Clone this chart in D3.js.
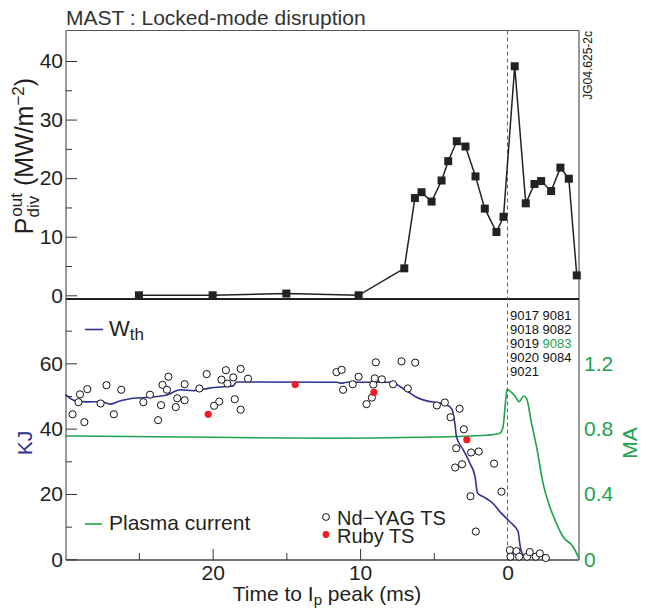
<!DOCTYPE html>
<html>
<head>
<meta charset="utf-8">
<script src="https://cdn.jsdelivr.net/npm/d3@7"></script>
<style>
  html, body { margin: 0; padding: 0; background: #fff; }
  svg { display: block; font-family: "Liberation Sans", Arial, Helvetica, sans-serif; }
</style>
</head>
<body>
<svg id="chart" width="647" height="609"></svg>
<script>
// ---------- DATA ----------
// Top panel: divertor power (MW/m^2) vs time to Ip peak (ms)
const pdivTime   = [25, 20, 15, 10.1, 7.0, 6.28, 5.83, 5.15, 4.47, 4.02, 3.44, 2.85, 2.17, 1.54, 0.75, 0.27, -0.49, -1.24, -1.83, -2.28, -2.96, -3.59, -4.16, -4.7];
const pdivValues = [0, 0, 0.3, 0, 4.6, 16.6, 17.6, 16.0, 19.6, 22.9, 26.3, 25.4, 20.3, 14.8, 10.8, 13.4, 39.1, 15.7, 19.0, 19.5, 17.8, 21.8, 19.9, 3.4];

// Bottom panel: stored energy Wth (kJ)
const wthTime   = [30, 29.3, 28.5, 27.6, 26.95, 26.4, 25.4, 24.25, 23.1, 22.2, 21.3, 20.2, 19.05, 18.6, 18.4, 11.6, 11.25, 10.9, 7.86, 7.3, 6.74, 6.17, 5.49, 4.81, 4.25, 3.8, 3.57, 3.46, 3.0, 2.55, 2.2, 2.03, 1.65, 0.98, 0.52, -0.16, -0.72, -0.83, -0.95, -1.1];
const wthValues = [50.5, 48.5, 48.2, 48.3, 47.5, 48.3, 49.3, 49.6, 50.3, 51.9, 51.6, 52.4, 52.9, 53.1, 54.3, 54.2, 53.9, 54.2, 54.2, 52.9, 51.3, 49.6, 48.5, 48.0, 47.5, 46.2, 41.6, 37.5, 33.5, 29.4, 25.3, 20.2, 19.2, 17.1, 14.6, 11.5, 8.5, 4.9, 2.3, 1.3];

// Plasma current (MA)
const ipTime   = [30, 20, 12.05, 5.95, 1.42, 0.52, 0.3, 0.12, 0.03, -0.16, -0.5, -0.79, -1.1, -1.29, -1.63, -1.97, -2.41, -2.87, -3.32, -3.77, -4.45, -4.85];
const ipValues = [0.755, 0.747, 0.741, 0.747, 0.76, 0.772, 0.812, 0.976, 1.041, 1.031, 1.0, 0.965, 1.0, 0.986, 0.833, 0.69, 0.466, 0.322, 0.22, 0.138, 0.077, 0.006];

// Nd-YAG Thomson scattering (kJ)
const ndyagTime   = [29.5, 29.1, 29.0, 28.7, 28.5, 27.6, 27.2, 26.7, 26.2, 24.7, 24.25, 23.7, 23.5, 23.4, 23.1, 23.0, 22.5, 22.4, 21.9, 21.9, 20.9, 20.4, 19.9, 19.55, 19.4, 19.1, 19.0, 18.6, 18.5, 18.1, 18.1, 17.6,
                     11.6, 11.25, 11.15, 10.5, 10.1, 9.56, 9.2, 9.1, 9.0, 8.93, 8.52, 7.76, 7.19, 6.76, 6.26, 4.79, 4.25, 3.86, 3.25, 2.96, 3.48, 2.47, 1.95, 3.55, 3.08, 0.91, 2.51, 0.41, 2.15,
                     -0.16, -0.61, -0.2, -0.79, -1.33, -1.51, -1.92, -2.19, -2.6];
const ndyagValues = [44.4, 48.1, 50.5, 42.0, 52.1, 47.7, 53.3, 44.4, 51.9, 48.1, 50.4, 42.6, 47.2, 53.4, 51.9, 55.9, 46.6, 49.3, 48.7, 53.6, 52.3, 56.7, 47.0, 48.3, 55.0, 57.9, 53.8, 55.7, 49.0, 58.3, 45.8, 55.3,
                     57.3, 58.0, 51.9, 53.6, 55.9, 47.5, 49.5, 53.5, 55.4, 60.3, 55.1, 53.6, 60.6, 52.3, 60.2, 47.1, 48.0, 43.5, 46.1, 39.8, 34.0, 32.7, 33.0, 28.1, 29.1, 29.3, 19.3, 20.7, 8.5,
                     2.8, 2.5, 0.8, 0.8, 0.8, 2.2, 0.8, 1.8, 0.4];

// Ruby Thomson scattering (kJ)
const rubyTime   = [20.3, 14.4, 9.06, 2.76];
const rubyValues = [44.4, 53.5, 51.1, 36.6];

// Tick values / labels
const topYTicks = [0, 10, 20, 30, 40];
const topYMinor = [5, 15, 25, 35];
const kjTicks = [0, 20, 40, 60];
const kjMinor = [10, 30, 50, 70];
const maTicks = [0, 0.4, 0.8, 1.2];
const xTicks = [20, 10, 0];
const xMinor = [25, 15, 5];
const shotRows = [["9017", "9081"], ["9018", "9082"], ["9019", "9083"], ["9020", "9084"], ["9021", ""]];
const highlightShot = "9083";

// ---------- LAYOUT ----------
const C = { blue: "#2e3192", green: "#1ea24f", red: "#ed1c24", ink: "#231f20", frame: "#555" };
const L = 66, R = 579, topT = 30.5, topB = 299, botB = 560;

const svg = d3.select("#chart");

const x = d3.scaleLinear().domain([30, -4.85]).range([65.2, 579]);
const yTop = d3.scaleLinear().domain([0, 40]).range([295.3, 61]);
const yKJ = d3.scaleLinear().domain([0, 80]).range([559.3, 298]);
const yMA = d3.scaleLinear().domain([0, 1.6]).range([559.3, 298]);

// ---------- FRAMES ----------
const fr = svg.append("g");
fr.append("line").attr("x1", L).attr("x2", R).attr("y1", topT).attr("y2", topT).attr("stroke", C.frame).attr("stroke-width", 1);
fr.append("line").attr("x1", L).attr("x2", L).attr("y1", topT).attr("y2", botB).attr("stroke", C.frame).attr("stroke-width", 1.2);
fr.append("line").attr("x1", R).attr("x2", R).attr("y1", topT).attr("y2", botB).attr("stroke", C.frame).attr("stroke-width", 1.2);
fr.append("line").attr("x1", L).attr("x2", R).attr("y1", topB).attr("y2", topB).attr("stroke", "#222").attr("stroke-width", 2);
fr.append("line").attr("x1", L).attr("x2", R).attr("y1", botB).attr("y2", botB).attr("stroke", "#444").attr("stroke-width", 1.5);

// dashed line at Ip peak
svg.append("line").attr("x1", x(0)).attr("x2", x(0)).attr("y1", topT).attr("y2", botB)
  .attr("stroke", "#666").attr("stroke-width", 1).attr("stroke-dasharray", "4,3");

// ---------- AXES ----------
function styleAxis(g, color, fs) {
  g.select(".domain").remove();
  g.selectAll(".tick line").attr("stroke", "#333").attr("stroke-width", 1);
  g.selectAll(".tick text").attr("fill", color).style("font-size", fs + "px").style("font-family", "'Liberation Sans', Arial, sans-serif");
}
// top y
svg.append("g").attr("transform", `translate(${L},0)`)
  .call(d3.axisLeft(yTop).tickValues(topYTicks).tickSize(-11).tickPadding(3))
  .call(g => styleAxis(g, C.ink, 21));
svg.append("g").attr("transform", `translate(${L},0)`)
  .call(d3.axisLeft(yTop).tickValues(topYMinor).tickSize(-6).tickFormat(""))
  .call(g => styleAxis(g, C.ink, 21));
// bottom KJ
svg.append("g").attr("transform", `translate(${L},0)`)
  .call(d3.axisLeft(yKJ).tickValues(kjTicks).tickSize(-11).tickPadding(3))
  .call(g => styleAxis(g, C.ink, 21));
svg.append("g").attr("transform", `translate(${L},0)`)
  .call(d3.axisLeft(yKJ).tickValues(kjMinor).tickSize(-6).tickFormat(""))
  .call(g => styleAxis(g, C.ink, 21));
// right MA
svg.append("g").attr("transform", `translate(${R},0)`)
  .call(d3.axisRight(yMA).tickValues(maTicks).tickSize(0).tickPadding(5).tickFormat(d => d === 0 ? "0" : d3.format(".1f")(d)))
  .call(g => styleAxis(g, C.green, 21));
// bottom x
svg.append("g").attr("transform", `translate(0,${botB})`)
  .call(d3.axisBottom(x).tickValues(xTicks).tickSize(-11).tickPadding(5).tickFormat(d3.format("d")))
  .call(g => styleAxis(g, C.ink, 21));
svg.append("g").attr("transform", `translate(0,${botB})`)
  .call(d3.axisBottom(x).tickValues(xMinor).tickSize(-7).tickFormat(""))
  .call(g => styleAxis(g, C.ink, 21));

// ---------- TOP PANEL ----------
const topData = pdivTime.map((t, i) => ({ t, v: pdivValues[i] }));
svg.append("path").datum(topData)
  .attr("d", d3.line().x(d => x(d.t)).y(d => yTop(d.v)))
  .attr("fill", "none").attr("stroke", "#222").attr("stroke-width", 1.5);
svg.append("g").selectAll("rect").data(topData).join("rect")
  .attr("x", d => x(d.t) - 4).attr("y", d => yTop(d.v) - 4)
  .attr("width", 8).attr("height", 8).attr("fill", "#222");

// ---------- BOTTOM PANEL ----------
const ipData = ipTime.map((t, i) => ({ t, v: ipValues[i] }));
svg.append("path").datum(ipData)
  .attr("d", d3.line().x(d => x(d.t)).y(d => yMA(d.v)).curve(d3.curveMonotoneX))
  .attr("fill", "none").attr("stroke", C.green).attr("stroke-width", 1.6);

const wthData = wthTime.map((t, i) => ({ t, v: wthValues[i] }));
svg.append("path").datum(wthData)
  .attr("d", d3.line().x(d => x(d.t)).y(d => yKJ(d.v)).curve(d3.curveMonotoneX))
  .attr("fill", "none").attr("stroke", C.blue).attr("stroke-width", 1.6);

const ndData = ndyagTime.map((t, i) => ({ t, v: ndyagValues[i] }));
svg.append("g").selectAll("circle").data(ndData).join("circle")
  .attr("cx", d => x(d.t)).attr("cy", d => yKJ(d.v)).attr("r", 3.6)
  .attr("fill", "#fff").attr("stroke", "#111").attr("stroke-width", 1);

const rubyData = rubyTime.map((t, i) => ({ t, v: rubyValues[i] }));
svg.append("g").selectAll("circle").data(rubyData).join("circle")
  .attr("cx", d => x(d.t)).attr("cy", d => yKJ(d.v)).attr("r", 3.6)
  .attr("fill", C.red);

// ---------- TEXT ----------
svg.append("text").attr("x", 66).attr("y", 25).attr("fill", "#333")
  .style("font-size", "21px").text("MAST : Locked-mode disruption");

svg.append("text").attr("transform", "translate(592,31) rotate(-90)")
  .attr("text-anchor", "end").attr("fill", "#111").style("font-size", "12px").text("JG04.625-2c");

// Top y label
const yl = svg.append("text").attr("transform", "translate(33,156) rotate(-90)")
  .attr("text-anchor", "middle").attr("fill", C.ink).style("font-size", "25px");
yl.append("tspan").text("P");
yl.append("tspan").attr("dy", 6).style("font-size", "17px").text("div");
yl.append("tspan").attr("dx", -21).attr("dy", -17).style("font-size", "17px").text("out");
yl.append("tspan").attr("dy", 11).text(" (MW/m");
yl.append("tspan").attr("dy", -9).style("font-size", "17px").text("−2");
yl.append("tspan").attr("dy", 9).text(")");

// KJ label
svg.append("text").attr("transform", "translate(32,443) rotate(-90)")
  .attr("text-anchor", "middle").attr("fill", C.blue).style("font-size", "21px").text("KJ");
// MA label
svg.append("text").attr("transform", "translate(637,443) rotate(-90)")
  .attr("text-anchor", "middle").attr("fill", C.green).style("font-size", "21px").text("MA");

// X label
const xl = svg.append("text").attr("x", 327).attr("y", 601).attr("text-anchor", "middle")
  .attr("fill", C.ink).style("font-size", "21px");
xl.append("tspan").text("Time to I");
xl.append("tspan").attr("dy", 4).style("font-size", "15px").text("p");
xl.append("tspan").attr("dy", -4).text(" peak (ms)");

// Legend Wth
svg.append("line").attr("x1", 85).attr("x2", 103).attr("y1", 329.5).attr("y2", 329.5).attr("stroke", C.blue).attr("stroke-width", 1.6);
const wl = svg.append("text").attr("x", 109).attr("y", 336).attr("fill", C.ink).style("font-size", "22px");
wl.append("tspan").text("W");
wl.append("tspan").attr("dy", 4).style("font-size", "17px").text("th");

// Legend plasma current
svg.append("line").attr("x1", 85).attr("x2", 102).attr("y1", 524).attr("y2", 524).attr("stroke", C.green).attr("stroke-width", 1.6);
svg.append("text").attr("x", 109).attr("y", 530).attr("fill", C.ink).style("font-size", "21px").text("Plasma current");

// Legend TS
svg.append("circle").attr("cx", 326).attr("cy", 517).attr("r", 3.4).attr("fill", "#fff").attr("stroke", "#111").attr("stroke-width", 1);
svg.append("text").attr("x", 337).attr("y", 525).attr("fill", C.ink).style("font-size", "20px").text("Nd\u2212YAG TS");
svg.append("circle").attr("cx", 326).attr("cy", 534.5).attr("r", 3.4).attr("fill", C.red);
svg.append("text").attr("x", 337).attr("y", 543).attr("fill", C.ink).style("font-size", "20px").text("Ruby TS");

// Shot numbers
const sg = svg.append("g").style("font-size", "13px");
shotRows.forEach((row, i) => {
  const t = sg.append("text").attr("x", 510).attr("y", 320 + i * 14.1).attr("fill", "#111");
  t.append("tspan").text(row[0]);
  if (row[1]) {
    t.append("tspan").attr("fill", row[1] === highlightShot ? C.green : "#111").text(" " + row[1]);
  }
});
</script>
</body>
</html>
